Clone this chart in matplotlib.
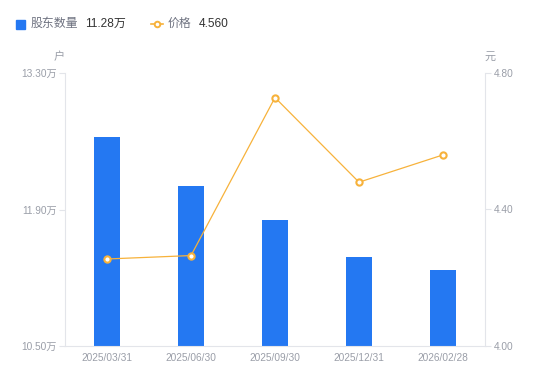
import matplotlib
matplotlib.use("Agg")
import matplotlib.pyplot as plt
from matplotlib.lines import Line2D

plt.rcParams['font.family'] = ['Liberation Sans', 'Noto Sans CJK SC', 'DejaVu Sans']

dates = ["2025/03/31", "2025/06/30", "2025/09/30", "2025/12/31", "2026/02/28"]
holders = [12.64, 12.14, 11.79, 11.41, 11.28]   # 万户
prices = [4.255, 4.265, 4.728, 4.48, 4.56]       # 元
left_ticks = [10.50, 11.90, 13.30]
right_ticks = [4.00, 4.40, 4.80]

BLUE = "#2478f2"
ORANGE = "#f7b23b"
GRAY = "#9a9ea8"
AXIS = "#e3e5ea"

fig = plt.figure(figsize=(5.5, 3.81), dpi=100)
ax = fig.add_axes([65/550, 35/381, 420/550, 273/381])
ax2 = ax.twinx()

x = list(range(len(dates)))
ax.bar(x, holders, width=0.3, color=BLUE, zorder=2)
ax.set_ylim(10.50, 13.30)
ax.set_xlim(-0.5, len(dates) - 0.5)
ax.set_yticks(left_ticks)
ax.set_yticklabels([f"{v:.2f}万" for v in left_ticks])
ax.set_xticks(x)
ax.set_xticklabels(dates)

ax2.plot(x, prices, color=ORANGE, lw=0.9, marker='o', ms=4.5,
         markerfacecolor='white', markeredgecolor=ORANGE, markeredgewidth=1.5, zorder=3)
ax2.set_ylim(4.00, 4.80)
ax2.set_yticks(right_ticks)
ax2.set_yticklabels([f"{v:.2f}" for v in right_ticks])

for a in (ax, ax2):
    for s in a.spines.values():
        s.set_visible(False)
ax.spines['left'].set_visible(True)
ax.spines['bottom'].set_visible(True)
ax2.spines['right'].set_visible(True)
for s in (ax.spines['left'], ax.spines['bottom'], ax2.spines['right']):
    s.set_color(AXIS)
    s.set_linewidth(0.8)

ax.tick_params(axis='y', colors=AXIS, labelcolor=GRAY, labelsize=7.3, length=4, width=0.8, pad=2)
ax.tick_params(axis='x', length=0, labelcolor=GRAY, labelsize=7.3, pad=5)
ax2.tick_params(axis='y', colors=AXIS, labelcolor=GRAY, labelsize=7.3, length=4, width=0.8, pad=2)

fig.text(59/550, 1 - 57/381, "户", color=GRAY, fontsize=8, ha='center', va='center')
fig.text(490/550, 1 - 57/381, "元", color=GRAY, fontsize=8, ha='center', va='center')

# legend
ly = 1 - 24/381
fig.patches.append(plt.Rectangle((16/550, ly - 4.5/381), 9/550, 9/381, transform=fig.transFigure,
                                 color=BLUE, figure=fig))
fig.text(31/550, ly, "股东数量", color="#6e7280", fontsize=8.6, va='center', ha='left')
fig.text(85/550, ly, "11.28万", color="#333333", fontsize=8.6, va='center', ha='left')
fig.lines.append(Line2D([151/550, 163/550], [ly, ly], transform=fig.transFigure, color=ORANGE, lw=1.2))
fig.lines.append(Line2D([157/550], [ly], transform=fig.transFigure, marker='o', ms=4,
                        markerfacecolor='white', markeredgecolor=ORANGE, markeredgewidth=1.4))
fig.text(168/550, ly, "价格", color="#6e7280", fontsize=8.6, va='center', ha='left')
fig.text(199/550, ly, "4.560", color="#333333", fontsize=8.6, va='center', ha='left')

fig.savefig("out.png", dpi=100)
